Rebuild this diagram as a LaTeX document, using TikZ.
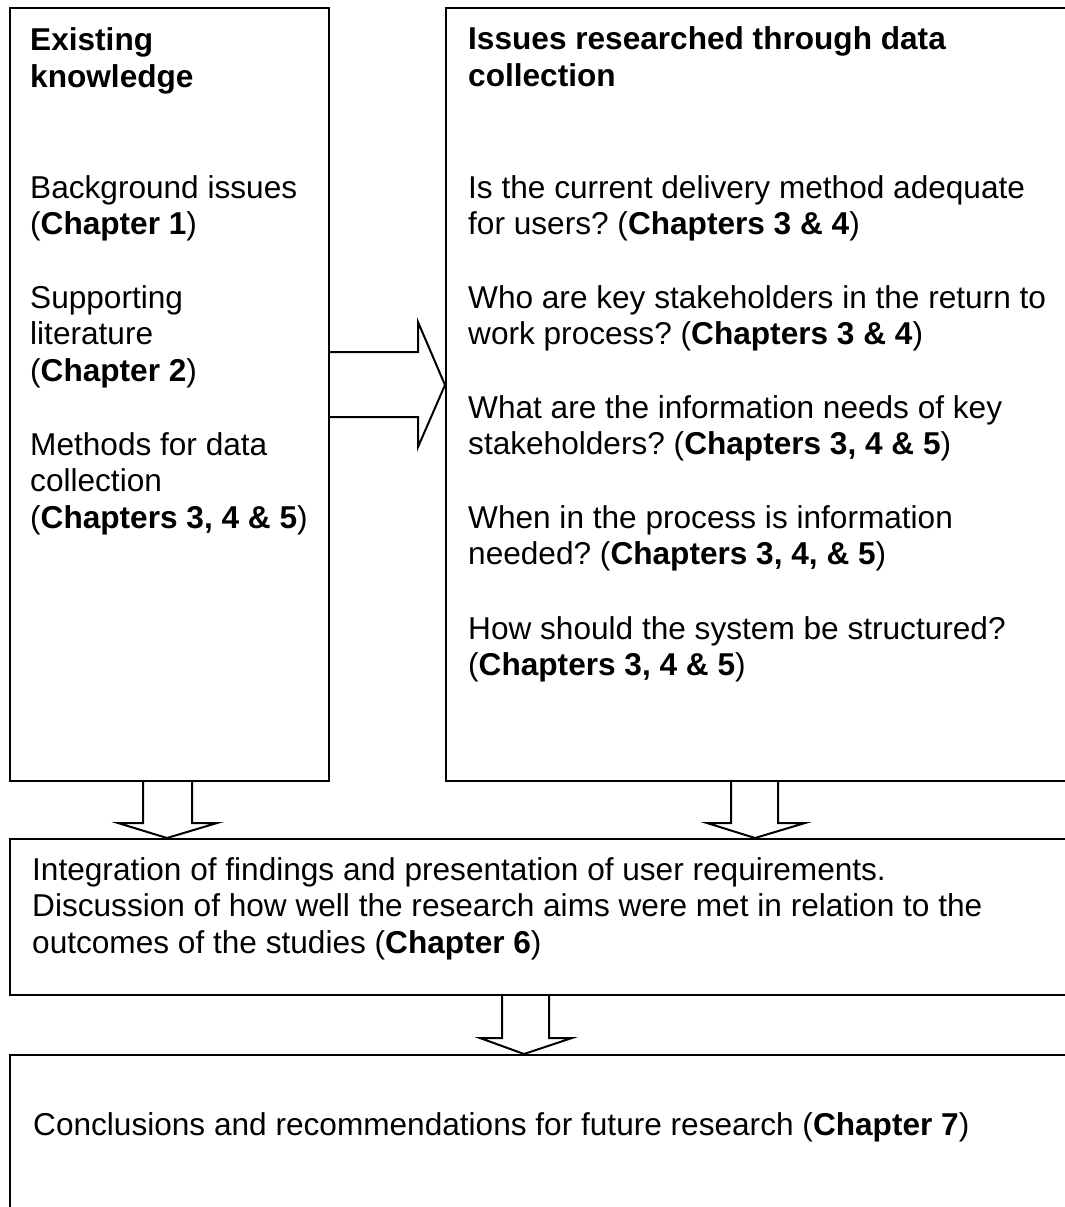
\documentclass[tikz,border=0pt]{standalone}
\usepackage{fontspec}
\setmainfont{Liberation Sans}
\frenchspacing
\begin{document}
\begin{tikzpicture}[x=1pt,y=-1pt,
  frame/.style={draw=black, line width=2.4pt},
  blockarrow/.style={draw=black, line width=2pt, line join=miter},
  txt/.style={anchor=base west, inner sep=0pt, font=\fontsize{31.6}{36.7}\selectfont}]
\useasboundingbox (0,0) rectangle (1065,1207);
\clip (0,0) rectangle (1065,1207);

% boxes (the right-hand ones run past the page edge)
\draw[frame] (10,8) rectangle (329,781);
\draw[frame] (446,8) rectangle (1080,781);
\draw[frame] (10,839) rectangle (1080,995);
\draw[frame] (10,1055) rectangle (1080,1230);

% block arrows
\draw[blockarrow] (329,352) -- (418,352) -- (418,322) -- (445,385) -- (418,447) -- (418,417) -- (329,417);
\draw[blockarrow] (143,781) -- (143,823) -- (118,823) -- (167,838) -- (217,823) -- (192,823) -- (192,781);
\draw[blockarrow] (731,781) -- (731,823) -- (707,823) -- (755,838) -- (805,823) -- (778,823) -- (778,781);
\draw[blockarrow] (502,995) -- (502,1038) -- (480,1038) -- (524,1054) -- (572,1038) -- (549,1038) -- (549,995);

% left column
\node[txt] (lhead) at (30,51) {\vtop{\hbox{\bfseries Existing}\hbox{\bfseries knowledge}}};
\node[txt] (lbg) at (30,198) {\vtop{\hbox{Background issues}\hbox{(\textbf{Chapter 1})}}};
\node[txt] (lsup) at (30,308) {\vtop{\hbox{Supporting}\hbox{literature}\hbox{(\textbf{Chapter 2})}}};
\node[txt] (lmeth) at (30,455) {\vtop{\hbox{Methods for data}\hbox{collection}\hbox{(\textbf{Chapters 3, 4 \& 5})}}};

% right column
\node[txt] (rhead) at (468,50) {\vtop{\hbox{\bfseries Issues researched through data}\hbox{\bfseries collection}}};
\node[txt] (rq1) at (468,198) {\vtop{\hbox{Is the current delivery method adequate}\hbox{for users? (\textbf{Chapters 3 \& 4})}}};
\node[txt] (rq2) at (468,308) {\vtop{\hbox{Who are key stakeholders in the return to}\hbox{work process? (\textbf{Chapters 3 \& 4})}}};
\node[txt] (rq3) at (468,418) {\vtop{\hbox{What are the information needs of key}\hbox{stakeholders? (\textbf{Chapters 3, 4 \& 5})}}};
\node[txt] (rq4) at (468,528) {\vtop{\hbox{When in the process is information}\hbox{needed? (\textbf{Chapters 3, 4, \& 5})}}};
\node[txt] (rq5) at (468,639) {\vtop{\hbox{How should the system be structured?}\hbox{(\textbf{Chapters 3, 4 \& 5})}}};

% integration box
\node[txt] (integ) at (32,880) {\vtop{\hbox{Integration of findings and presentation of user requirements.}\hbox{Discussion of how well the research aims were met in relation to the}\hbox{outcomes of the studies (\textbf{Chapter 6})}}};

% conclusions box
\node[txt] (concl) at (33,1135) {Conclusions and recommendations for future research (\textbf{Chapter 7})};
\end{tikzpicture}
\end{document}
